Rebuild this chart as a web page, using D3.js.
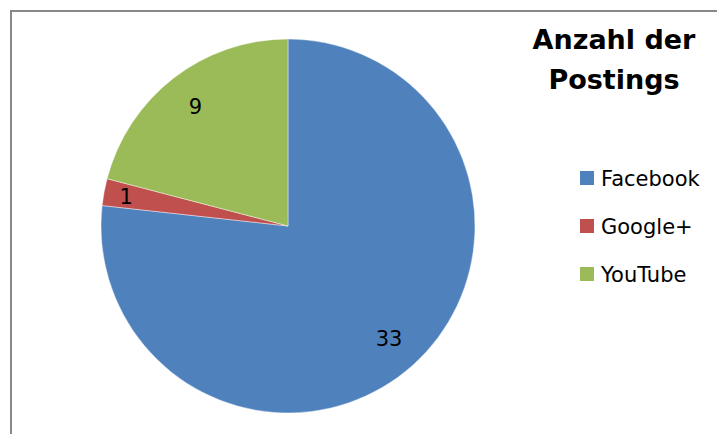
<!DOCTYPE html>
<html>
<head>
<meta charset="utf-8">
<script src="https://cdn.jsdelivr.net/npm/d3@7"></script>
<style>
  body { margin: 0; background: #fff; }
  svg { display: block; }
</style>
</head>
<body>
<div id="chart"></div>
<script>
// --- Data ---
const platforms = ["Facebook", "Google+", "YouTube"];
const postings = [33, 1, 9];
const titleLines = ["Anzahl der", "Postings"];
const sliceColors = ["#4f81bd", "#c0504d", "#9bbb59"];

const W = 717, H = 434;
const font = "'DejaVu Sans', sans-serif";

const svg = d3.select("#chart")
    .append("svg")
        .attr("width", W)
        .attr("height", H);

// chart frame (right/bottom edges fall outside the window)
svg.append("rect")
    .attr("x", 11)
    .attr("y", 11)
    .attr("width", W + 20)
    .attr("height", H + 20)
    .attr("fill", "none")
    .attr("stroke", "#888")
    .attr("stroke-width", 2);

// --- Pie ---
const cx = 288, cy = 226, radius = 187;
const data = platforms.map((p, i) => ({ name: p, value: postings[i] }));

const color = d3.scaleOrdinal()
    .domain(platforms)
    .range(sliceColors);

const pie = d3.pie()
    .value(d => d.value)
    .sort(null);

const arc = d3.arc()
    .innerRadius(0)
    .outerRadius(radius);

const arcs = pie(data);

const pieG = svg.append("g")
    .attr("transform", `translate(${cx}, ${cy})`);

pieG.selectAll("path")
    .data(arcs)
    .join("path")
    .attr("d", arc)
    .attr("fill", d => color(d.data.name))
    .attr("stroke", "#fff")
    .attr("stroke-width", 0.6)
    .attr("stroke-opacity", 0.7);

// labels: narrow slices get pushed a bit further out
pieG.selectAll("text")
    .data(arcs)
    .join("text")
    .attr("transform", d => {
        const span = d.endAngle - d.startAngle;
        const r = radius * (span < 0.3 ? 0.88 : 0.81);
        const a = (d.startAngle + d.endAngle) / 2;
        return `translate(${Math.sin(a) * r}, ${-Math.cos(a) * r})`;
    })
    .attr("text-anchor", "middle")
    .attr("dy", "0.36em")
    .style("font-family", font)
    .style("font-size", "21px")
    .attr("fill", "#000")
    .text(d => d.data.value);

// --- Title ---
svg.append("g")
    .selectAll("text")
    .data(titleLines)
    .join("text")
    .attr("x", 614)
    .attr("y", (d, i) => 49 + i * 40)
    .attr("text-anchor", "middle")
    .style("font-family", font)
    .style("font-weight", "bold")
    .style("font-size", "27px")
    .attr("fill", "#000")
    .text(d => d);

// --- Legend ---
const legendY = d3.scalePoint()
    .domain(platforms)
    .range([178, 274]);

const legend = svg.append("g")
    .selectAll("g")
    .data(platforms)
    .join("g")
    .attr("transform", d => `translate(580, ${legendY(d)})`);

legend.append("rect")
    .attr("x", 0)
    .attr("y", -7)
    .attr("width", 14)
    .attr("height", 14)
    .attr("fill", d => color(d));

legend.append("text")
    .attr("x", 21)
    .attr("y", 0)
    .attr("dy", "0.36em")
    .style("font-family", font)
    .style("font-size", "21px")
    .attr("fill", "#000")
    .text(d => d);
</script>
</body>
</html>
